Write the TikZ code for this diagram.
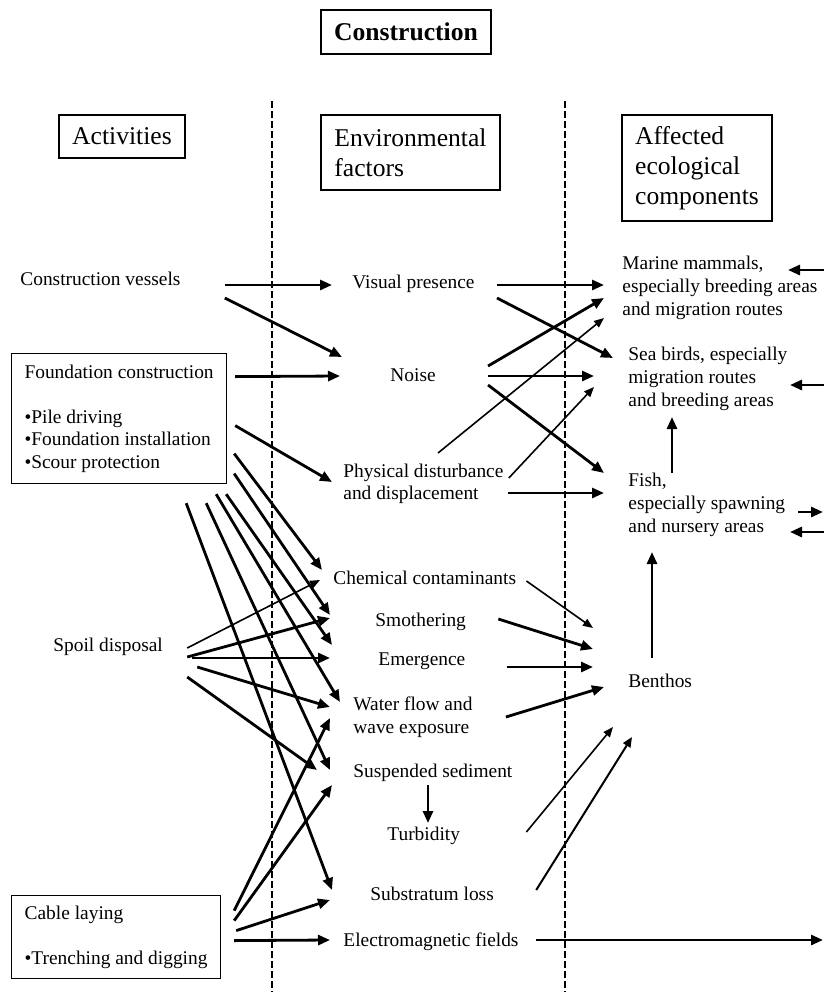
\documentclass[tikz,border=0pt]{standalone}
\usepackage{fontspec}
\setmainfont{Liberation Serif}
\usetikzlibrary{arrows.meta}

\newcommand{\lblfont}{\fontsize{9.7}{11.25}\selectfont}
\newcommand{\colfont}{\fontsize{9.7}{11.5}\selectfont}
\newcommand{\hdrfont}{\fontsize{12.8}{15}\selectfont}

\tikzset{
  hdr/.style={draw, line width=0.6pt, font=\hdrfont, align=left, inner sep=0pt},
  lbl/.style={font=\lblfont, inner sep=0pt, anchor=west, align=left},
  actbox/.style={draw, line width=0.6pt, font=\lblfont, align=left, inner sep=0pt, anchor=north west},
  link/.style={line width=1.4pt, -{Triangle[length=6pt,width=5pt]}},
  midlink/.style={line width=1pt, -{Triangle[length=5pt,width=4.2pt]}},
  thinlink/.style={line width=0.8pt, -{Triangle[length=5pt,width=4pt]}},
  divider/.style={line width=1pt, dash pattern=on 3.5pt off 1.5pt}
}

\begin{document}
\begin{tikzpicture}[x=0.5pt, y=-0.5pt]
\useasboundingbox (0,0) rectangle (824,992);

% headings
\node[hdr, font=\hdrfont\bfseries, align=center, minimum width=85pt, minimum height=22pt] (title) at (406,32) {Construction};
\node[hdr, align=center, minimum width=63pt, minimum height=21.5pt] (acts) at (122,136.5) {Activities};
\node[hdr, minimum width=89.5pt, minimum height=37.5pt] (envf) at (410.5,152.5) {Environmental\\factors};
\node[hdr, minimum width=75pt, minimum height=53pt] (aff) at (697,168) {Affected\\ecological\\components};

\draw[divider] (271.5,101) -- (271.5,992);
\draw[divider] (565,101) -- (565,992);

% activities
\node[lbl] (vessels) at (20,279) {Construction vessels};
\node[actbox, minimum width=107.5pt, minimum height=65pt] (found) at (11,353) {Foundation construction\\[11.25pt]•Pile driving\\•Foundation installation\\•Scour protection};
\node[lbl] (spoil) at (53,647) {Spoil disposal};
\node[actbox, minimum width=104.5pt, minimum height=41.5pt] (cable) at (11,895) {Cable laying\\[11.25pt]•Trenching and digging};

% environmental factors
\node[lbl] (visual) at (352,284) {Visual presence};
\node[lbl] (noise) at (390,375) {Noise};
\node[lbl] (phys) at (343,484) {Physical disturbance\\and displacement};
\node[lbl] (chem) at (333,578) {Chemical contaminants};
\node[lbl] (smoth) at (375,622) {Smothering};
\node[lbl] (emerg) at (378,661) {Emergence};
\node[lbl] (water) at (353,717) {Water flow and\\wave exposure};
\node[lbl] (susp) at (353,773) {Suspended sediment};
\node[lbl] (turb) at (387,836) {Turbidity};
\node[lbl] (subst) at (370,894) {Substratum loss};
\node[lbl] (emf) at (343,942) {Electromagnetic fields};

% ecological components
\node[lbl, font=\colfont] (mammals) at (622,288) {Marine mammals,\\especially breeding areas\\and migration routes};
\node[lbl, font=\colfont] (birds) at (628,379) {Sea birds, especially\\migration routes\\and breeding areas};
\node[lbl, font=\colfont] (fish) at (628,505) {Fish,\\especially spawning\\and nursery areas};
\node[lbl] (benthos) at (628,681) {Benthos};

% free ends at the right margin
\coordinate (mmin) at (824,270);
\coordinate (sbin) at (824,385);
\coordinate (fishout) at (823,512);
\coordinate (fishin) at (824,532);
\coordinate (emfout) at (823,940);

% activities -> factors
\draw[link] ([shift={(44,6)}]vessels.east) -- ([shift={(-20,1)}]visual.west);
\draw[link] ([shift={(44,19)}]vessels.east) -- ([shift={(-48,-18)}]noise.west);
\draw[link] ([shift={(8,-42)}]found.east) -- ([shift={(-50,1)}]noise.west);
\draw[link] ([shift={(8,7)}]found.east) -- ([shift={(-11,-2)}]phys.west);
\draw[link] ([shift={(7,35)}]found.east) -- ([shift={(-11,-8)}]chem.west);
\draw[link] ([shift={(7,55)}]found.east) -- ([shift={(-45,-7)}]smoth.west);
\draw[link] ([shift={(-1,10)}]found.south east) -- ([shift={(-46,-16)}]emerg.west);
\draw[link] ([shift={(-11,10)}]found.south east) -- ([shift={(-13,-15)}]water.west);
\draw[link] ([shift={(-21,19)}]found.south east) -- ([shift={(-23,-3)}]susp.west);
\draw[link] ([shift={(-41,19)}]found.south east) -- ([shift={(-38,-4)}]subst.west);
\draw[thinlink] ([shift={(24,1)}]spoil.east) -- ([shift={(-13,2)}]chem.west);
\draw[link] ([shift={(24,10)}]spoil.east) -- ([shift={(-45,-4)}]smoth.west);
\draw[link] ([shift={(29,11)}]spoil.east) -- ([shift={(-48,-3)}]emerg.west);
\draw[link] ([shift={(34,20)}]spoil.east) -- ([shift={(-23,-10)}]water.west);
\draw[link] ([shift={(24,30)}]spoil.east) -- ([shift={(-36,-3)}]susp.west);
\draw[link] ([shift={(13,-26.5)}]cable.east) -- ([shift={(-23,1)}]water.west);
\draw[link] ([shift={(13,-16.5)}]cable.east) -- ([shift={(-21,12)}]susp.west);
\draw[link] ([shift={(15,-6.5)}]cable.east) -- ([shift={(-40,6)}]subst.west);
\draw[link] ([shift={(13,3.5)}]cable.east) -- ([shift={(-13,-2)}]emf.west);

% factors -> components
\draw[link] ([shift={(22,1)}]visual.east) -- ([shift={(-18,-3)}]mammals.west);
\draw[link] ([shift={(22,14)}]visual.east) -- ([shift={(-15,-21)}]birds.west);
\draw[link] ([shift={(52,-9)}]noise.east) -- ([shift={(-18,10)}]mammals.west);
\draw[link] ([shift={(52,1)}]noise.east) -- ([shift={(-34,-3)}]birds.west);
\draw[link] ([shift={(52,10)}]noise.east) -- ([shift={(-24,-32)}]fish.west);
\draw[thinlink] ([shift={(95,-31)}]phys.west) -- ([shift={(-18,30)}]mammals.west);
\draw[thinlink] ([shift={(5,-6)}]phys.east) -- ([shift={(-34,8)}]birds.west);
\draw[link] ([shift={(4,9)}]phys.east) -- ([shift={(-24,-12)}]fish.west);
\draw[thinlink] ([shift={(10,3)}]chem.east) -- ([shift={(-35,-53)}]benthos.west);
\draw[link] ([shift={(32,-3)}]smoth.east) -- ([shift={(-35,-32)}]benthos.west);
\draw[link] ([shift={(41,6)}]emerg.east) -- ([shift={(-35,-14)}]benthos.west);
\draw[link] ([shift={(33,0)}]water.east) -- ([shift={(-24,6)}]benthos.west);
\draw[thinlink] ([shift={(66,-4)}]turb.east) -- ([shift={(-15,46)}]benthos.west);
\draw[midlink] ([shift={(42,-4)}]subst.east) -- ([shift={(4,56)}]benthos.west);
\draw[link] ([shift={(17,-2)}]emf.east) -- (emfout);

% within columns
\draw[link] ([shift={(75,12)}]susp.west) -- ([shift={(41,-13)}]turb.west);
\draw[link] ([shift={(44,-32)}]fish.west) -- ([shift={(44,38)}]birds.west);
\draw[link] ([shift={(24,-23)}]benthos.west) -- ([shift={(24,47)}]fish.west);

% right margin
\draw[link] (mmin) -- ([shift={(166,-18)}]mammals.west);
\draw[link] (sbin) -- ([shift={(162,6)}]birds.west);
\draw[link] ([shift={(170,7)}]fish.west) -- (fishout);
\draw[link] (fishin) -- ([shift={(162,27)}]fish.west);
\end{tikzpicture}
\end{document}
